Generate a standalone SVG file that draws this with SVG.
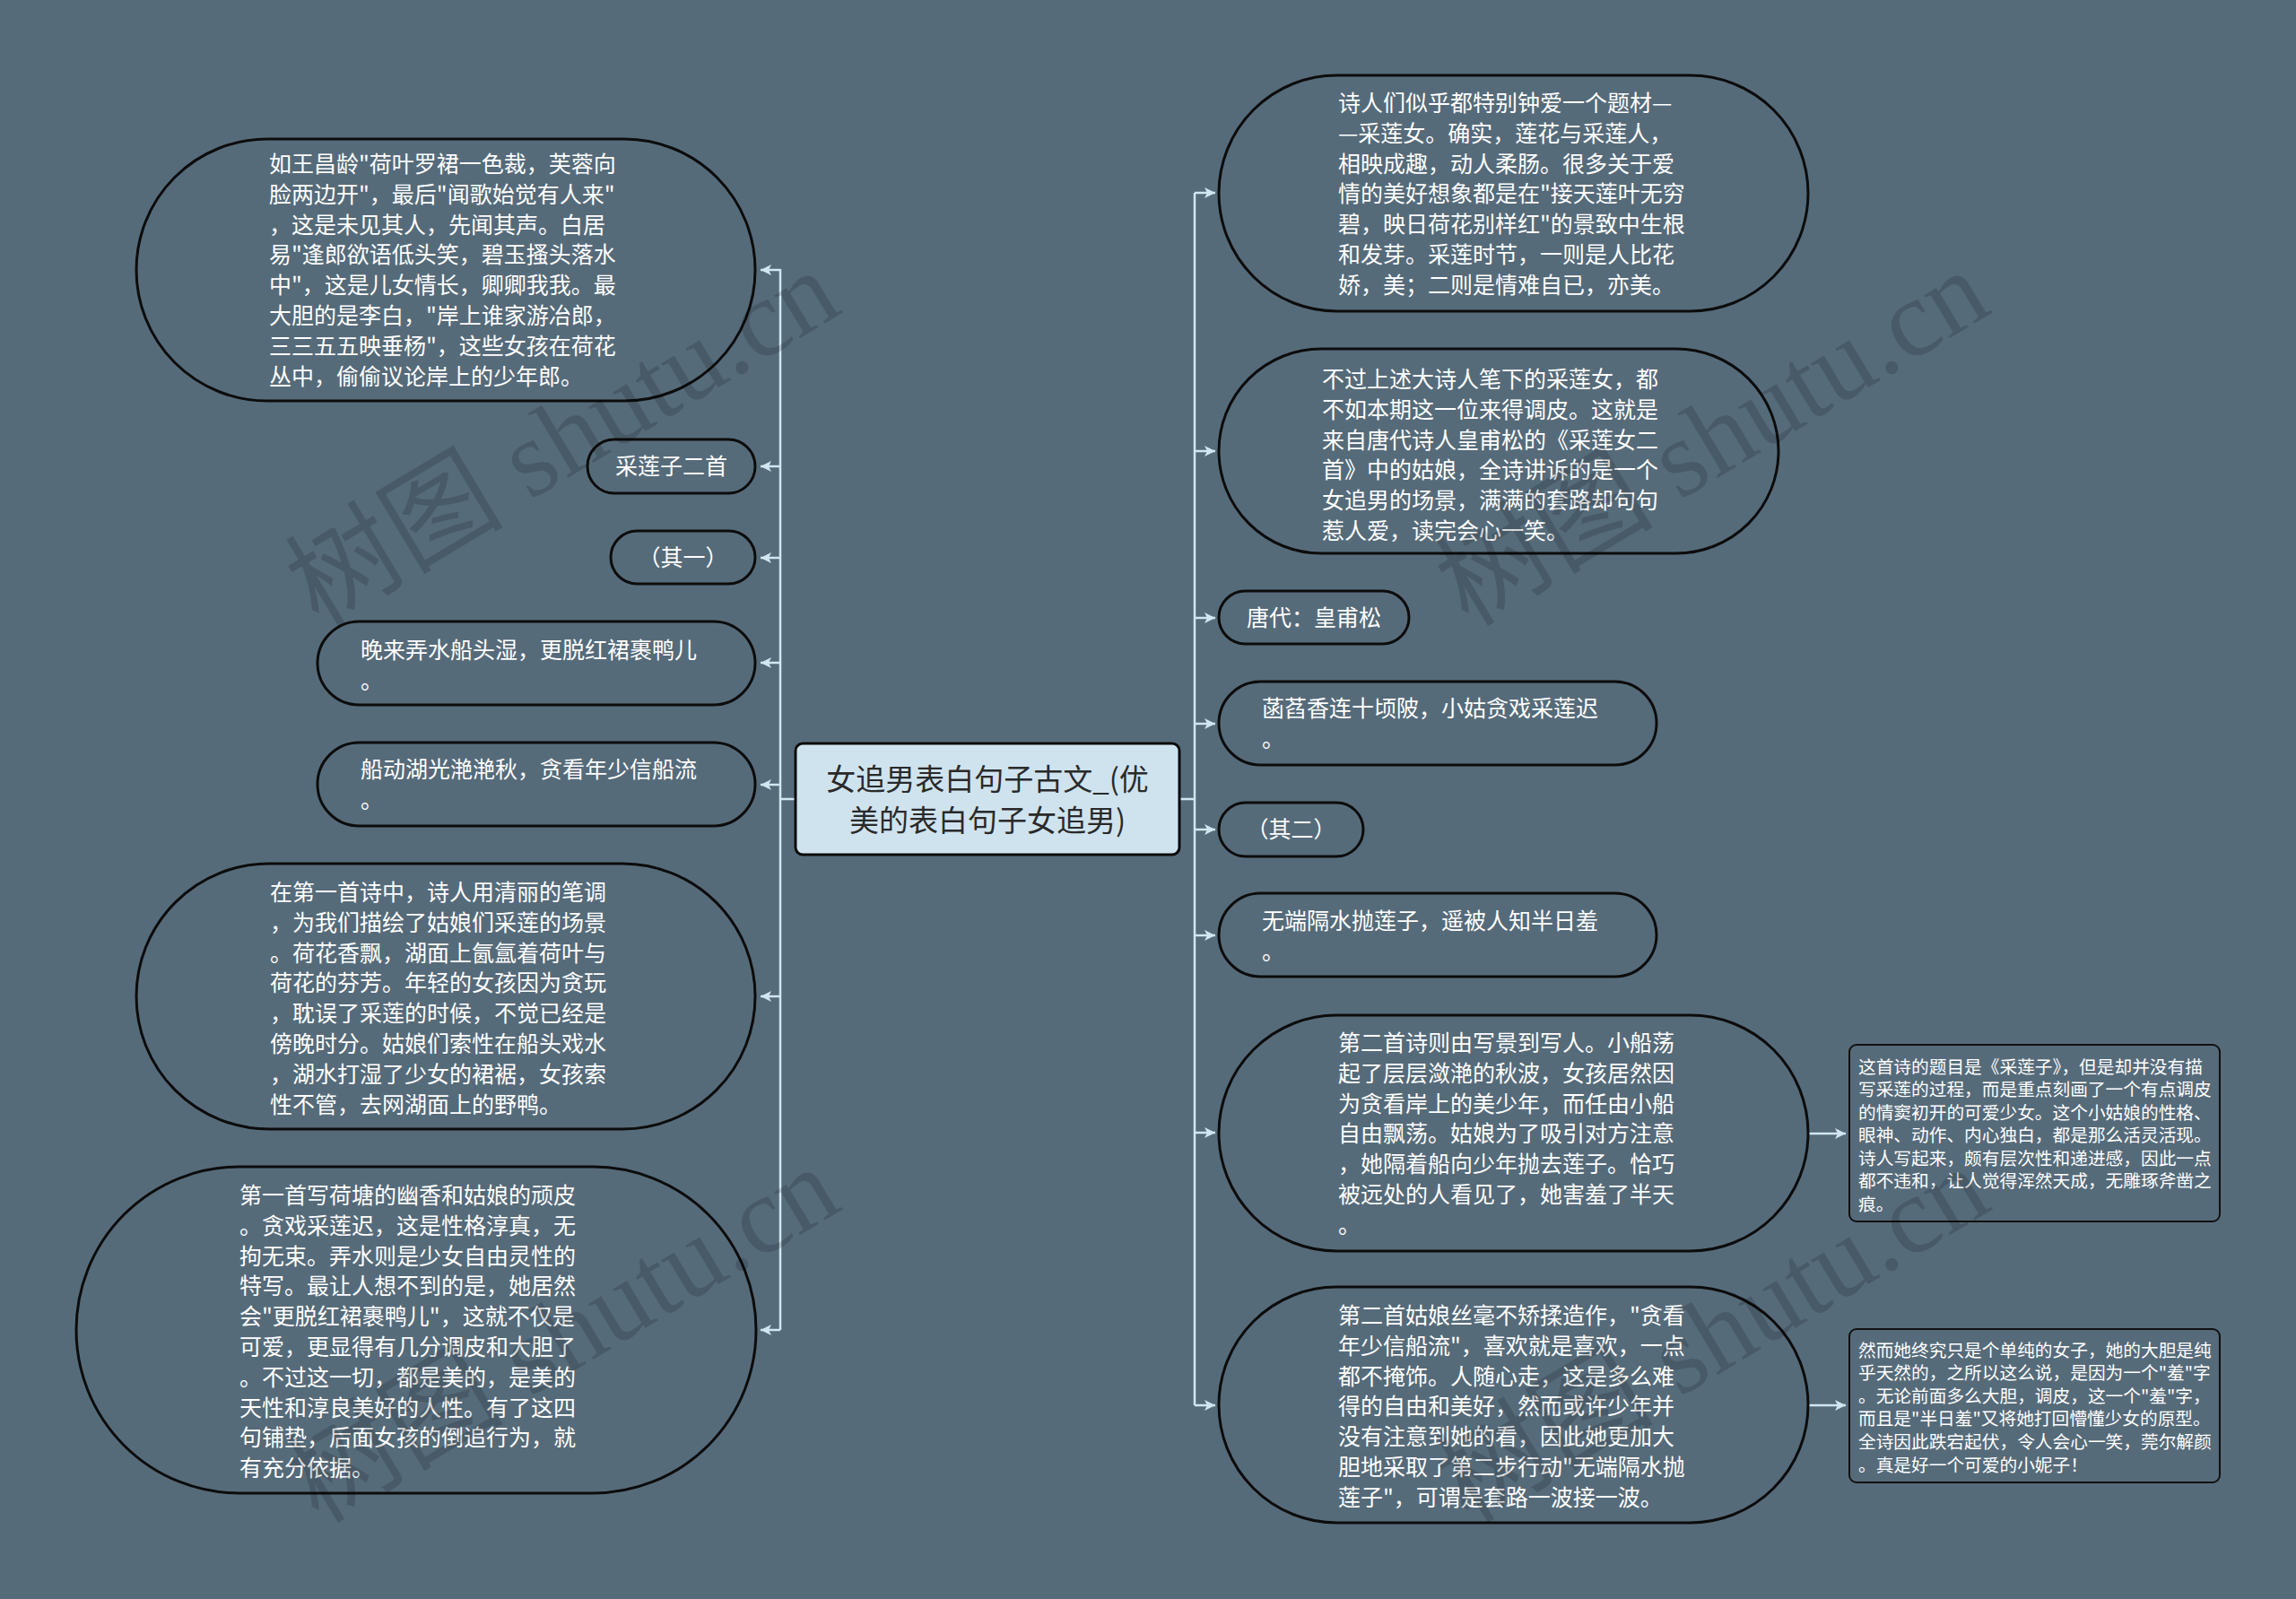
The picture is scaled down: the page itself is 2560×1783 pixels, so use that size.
<svg xmlns="http://www.w3.org/2000/svg" width="2560" height="1783" viewBox="0 0 2560 1783">
<style>
.bg{fill:#566b7a}
.pill{fill:#566b7a;stroke:#0c0c0c;stroke-width:3}
.box{fill:#566b7a;stroke:#111;stroke-width:2}
.t{font-family:"Noto Sans CJK SC","Noto Sans",sans-serif;font-size:25px;fill:#ffffff}
.ts{font-family:"Noto Sans CJK SC","Noto Sans",sans-serif;font-size:19.7px;fill:#ffffff}
.tc{font-family:"Noto Sans CJK SC","Noto Sans",sans-serif;font-size:33px;fill:#2a2a2a;text-anchor:middle}
.m{text-anchor:middle}
.c{fill:none;stroke:#d2e6f1;stroke-width:2.5}
.wm{font-family:"Liberation Serif","Noto Sans CJK SC",serif;font-size:122px;fill:#000;opacity:0.15}
</style>
<defs>
<marker id="ah" markerUnits="userSpaceOnUse" markerWidth="14" markerHeight="12" refX="12" refY="6" orient="auto">
<path d="M0,0 L12,6 L0,12 L3,6 z" fill="#d2e6f1"/>
</marker>
</defs>
<rect class="bg" x="0" y="0" width="2560" height="1783"/>
<g id="connectors">
<path class="c" d="M887,891 H870 M870,300 V1483"/>
<path class="c" d="M870,301 H848" marker-end="url(#ah)"/>
<path class="c" d="M870,520 H848" marker-end="url(#ah)"/>
<path class="c" d="M870,622 H848" marker-end="url(#ah)"/>
<path class="c" d="M870,739 H848" marker-end="url(#ah)"/>
<path class="c" d="M870,875 H848" marker-end="url(#ah)"/>
<path class="c" d="M870,1111 H848" marker-end="url(#ah)"/>
<path class="c" d="M870,1483 H848" marker-end="url(#ah)"/>
<path class="c" d="M1315,891 H1332 M1332,215 V1567"/>
<path class="c" d="M1332,215 H1355" marker-end="url(#ah)"/>
<path class="c" d="M1332,503 H1355" marker-end="url(#ah)"/>
<path class="c" d="M1332,689 H1355" marker-end="url(#ah)"/>
<path class="c" d="M1332,807 H1355" marker-end="url(#ah)"/>
<path class="c" d="M1332,925 H1355" marker-end="url(#ah)"/>
<path class="c" d="M1332,1043 H1355" marker-end="url(#ah)"/>
<path class="c" d="M1332,1263 H1355" marker-end="url(#ah)"/>
<path class="c" d="M1332,1567 H1355" marker-end="url(#ah)"/>
<path class="c" d="M2016,1264 H2058" marker-end="url(#ah)"/>
<path class="c" d="M2016,1567 H2058" marker-end="url(#ah)"/>
</g>
<g id="center">
<rect x="887" y="829" width="428" height="124" rx="8" fill="#cfe3ef" stroke="#0c0c0c" stroke-width="3"/>
<text class="tc" x="1101" y="881">女追男表白句子古文_(优</text>
<text class="tc" x="1101" y="927">美的表白句子女追男)</text>
</g>
<g id="L1">
<rect class="pill" x="152" y="155" width="690" height="292" rx="146"/>
<text class="t" x="300" y="192"><tspan x="300">如王昌龄"荷叶罗裙一色裁，芙蓉向</tspan><tspan x="300" dy="33.8">脸两边开"，最后"闻歌始觉有人来"</tspan><tspan x="300" dy="33.8">，这是未见其人，先闻其声。白居</tspan><tspan x="300" dy="33.8">易"逢郎欲语低头笑，碧玉搔头落水</tspan><tspan x="300" dy="33.8">中"，这是儿女情长，卿卿我我。最</tspan><tspan x="300" dy="33.8">大胆的是李白，"岸上谁家游冶郎，</tspan><tspan x="300" dy="33.8">三三五五映垂杨"，这些女孩在荷花</tspan><tspan x="300" dy="33.8">丛中，偷偷议论岸上的少年郎。</tspan></text>
</g>
<g id="L2">
<rect class="pill" x="655" y="490" width="187" height="60" rx="30"/>
<text class="t m" x="748.5" y="529">采莲子二首</text>
</g>
<g id="L3">
<rect class="pill" x="681" y="592" width="161" height="59" rx="29.5"/>
<text class="t m" x="761.5" y="631">（其一）</text>
</g>
<g id="L4">
<rect class="pill" x="354" y="693" width="488" height="93" rx="46.5"/>
<text class="t" x="402" y="734"><tspan x="402">晚来弄水船头湿，更脱红裙裹鸭儿</tspan><tspan x="402" dy="33.8">。</tspan></text>
</g>
<g id="L5">
<rect class="pill" x="354" y="828" width="488" height="93" rx="46.5"/>
<text class="t" x="402" y="867"><tspan x="402">船动湖光滟滟秋，贪看年少信船流</tspan><tspan x="402" dy="33.8">。</tspan></text>
</g>
<g id="L6">
<rect class="pill" x="152" y="963" width="690" height="296" rx="148"/>
<text class="t" x="301" y="1004"><tspan x="301">在第一首诗中，诗人用清丽的笔调</tspan><tspan x="301" dy="33.8">，为我们描绘了姑娘们采莲的场景</tspan><tspan x="301" dy="33.8">。荷花香飘，湖面上氤氲着荷叶与</tspan><tspan x="301" dy="33.8">荷花的芬芳。年轻的女孩因为贪玩</tspan><tspan x="301" dy="33.8">，耽误了采莲的时候，不觉已经是</tspan><tspan x="301" dy="33.8">傍晚时分。姑娘们索性在船头戏水</tspan><tspan x="301" dy="33.8">，湖水打湿了少女的裙裾，女孩索</tspan><tspan x="301" dy="33.8">性不管，去网湖面上的野鸭。</tspan></text>
</g>
<g id="L7">
<rect class="pill" x="85" y="1301" width="758" height="364" rx="182"/>
<text class="t" x="267" y="1342"><tspan x="267">第一首写荷塘的幽香和姑娘的顽皮</tspan><tspan x="267" dy="33.8">。贪戏采莲迟，这是性格淳真，无</tspan><tspan x="267" dy="33.8">拘无束。弄水则是少女自由灵性的</tspan><tspan x="267" dy="33.8">特写。最让人想不到的是，她居然</tspan><tspan x="267" dy="33.8">会"更脱红裙裹鸭儿"，这就不仅是</tspan><tspan x="267" dy="33.8">可爱，更显得有几分调皮和大胆了</tspan><tspan x="267" dy="33.8">。不过这一切，都是美的，是美的</tspan><tspan x="267" dy="33.8">天性和淳良美好的人性。有了这四</tspan><tspan x="267" dy="33.8">句铺垫，后面女孩的倒追行为，就</tspan><tspan x="267" dy="33.8">有充分依据。</tspan></text>
</g>
<g id="R1">
<rect class="pill" x="1359" y="84" width="657" height="263" rx="131.5"/>
<text class="t" x="1492" y="124"><tspan x="1492">诗人们似乎都特别钟爱一个题材—</tspan><tspan x="1492" dy="33.8">—采莲女。确实，莲花与采莲人，</tspan><tspan x="1492" dy="33.8">相映成趣，动人柔肠。很多关于爱</tspan><tspan x="1492" dy="33.8">情的美好想象都是在"接天莲叶无穷</tspan><tspan x="1492" dy="33.8">碧，映日荷花别样红"的景致中生根</tspan><tspan x="1492" dy="33.8">和发芽。采莲时节，一则是人比花</tspan><tspan x="1492" dy="33.8">娇，美；二则是情难自已，亦美。</tspan></text>
</g>
<g id="R2">
<rect class="pill" x="1359" y="389" width="624" height="228" rx="114"/>
<text class="t" x="1474" y="432"><tspan x="1474">不过上述大诗人笔下的采莲女，都</tspan><tspan x="1474" dy="33.8">不如本期这一位来得调皮。这就是</tspan><tspan x="1474" dy="33.8">来自唐代诗人皇甫松的《采莲女二</tspan><tspan x="1474" dy="33.8">首》中的姑娘，全诗讲诉的是一个</tspan><tspan x="1474" dy="33.8">女追男的场景，满满的套路却句句</tspan><tspan x="1474" dy="33.8">惹人爱，读完会心一笑。</tspan></text>
</g>
<g id="R3">
<rect class="pill" x="1359" y="659" width="212" height="59" rx="29.5"/>
<text class="t m" x="1465" y="698">唐代：皇甫松</text>
</g>
<g id="R4">
<rect class="pill" x="1359" y="760" width="488" height="93" rx="46.5"/>
<text class="t" x="1407" y="799"><tspan x="1407">菡萏香连十顷陂，小姑贪戏采莲迟</tspan><tspan x="1407" dy="33.8">。</tspan></text>
</g>
<g id="R5">
<rect class="pill" x="1359" y="895" width="161" height="60" rx="30"/>
<text class="t m" x="1439.5" y="934">（其二）</text>
</g>
<g id="R6">
<rect class="pill" x="1359" y="996" width="488" height="93" rx="46.5"/>
<text class="t" x="1407" y="1036"><tspan x="1407">无端隔水抛莲子，遥被人知半日羞</tspan><tspan x="1407" dy="33.8">。</tspan></text>
</g>
<g id="R7">
<rect class="pill" x="1359" y="1132" width="657" height="263" rx="131.5"/>
<text class="t" x="1492" y="1172"><tspan x="1492">第二首诗则由写景到写人。小船荡</tspan><tspan x="1492" dy="33.8">起了层层潋滟的秋波，女孩居然因</tspan><tspan x="1492" dy="33.8">为贪看岸上的美少年，而任由小船</tspan><tspan x="1492" dy="33.8">自由飘荡。姑娘为了吸引对方注意</tspan><tspan x="1492" dy="33.8">，她隔着船向少年抛去莲子。恰巧</tspan><tspan x="1492" dy="33.8">被远处的人看见了，她害羞了半天</tspan><tspan x="1492" dy="33.8">。</tspan></text>
</g>
<g id="R8">
<rect class="pill" x="1359" y="1435" width="657" height="263" rx="131.5"/>
<text class="t" x="1492" y="1476"><tspan x="1492">第二首姑娘丝毫不矫揉造作，"贪看</tspan><tspan x="1492" dy="33.8">年少信船流"，喜欢就是喜欢，一点</tspan><tspan x="1492" dy="33.8">都不掩饰。人随心走，这是多么难</tspan><tspan x="1492" dy="33.8">得的自由和美好，然而或许少年并</tspan><tspan x="1492" dy="33.8">没有注意到她的看，因此她更加大</tspan><tspan x="1492" dy="33.8">胆地采取了第二步行动"无端隔水抛</tspan><tspan x="1492" dy="33.8">莲子"，可谓是套路一波接一波。</tspan></text>
</g>
<g id="C1">
<rect class="box" x="2062" y="1165" width="413" height="197" rx="8"/>
<text class="ts" x="2072" y="1196.5"><tspan x="2072">这首诗的题目是《采莲子》，但是却并没有描</tspan><tspan x="2072" dy="25.5">写采莲的过程，而是重点刻画了一个有点调皮</tspan><tspan x="2072" dy="25.5">的情窦初开的可爱少女。这个小姑娘的性格、</tspan><tspan x="2072" dy="25.5">眼神、动作、内心独白，都是那么活灵活现。</tspan><tspan x="2072" dy="25.5">诗人写起来，颇有层次性和递进感，因此一点</tspan><tspan x="2072" dy="25.5">都不违和，让人觉得浑然天成，无雕琢斧凿之</tspan><tspan x="2072" dy="25.5">痕。</tspan></text>
</g>
<g id="C2">
<rect class="box" x="2062" y="1482" width="413" height="171" rx="8"/>
<text class="ts" x="2072" y="1512.5"><tspan x="2072">然而她终究只是个单纯的女子，她的大胆是纯</tspan><tspan x="2072" dy="25.6">乎天然的，之所以这么说，是因为一个"羞"字</tspan><tspan x="2072" dy="25.6">。无论前面多么大胆，调皮，这一个"羞"字，</tspan><tspan x="2072" dy="25.6">而且是"半日羞"又将她打回懵懂少女的原型。</tspan><tspan x="2072" dy="25.6">全诗因此跌宕起伏，令人会心一笑，莞尔解颜</tspan><tspan x="2072" dy="25.6">。真是好一个可爱的小妮子！</tspan></text>
</g>
<g id="watermark">
<text class="wm" transform="translate(355,700) rotate(-31)">树图 shutu.cn</text>
<text class="wm" transform="translate(1637,700) rotate(-31)">树图 shutu.cn</text>
<text class="wm" transform="translate(355,1700) rotate(-31)">树图 shutu.cn</text>
<text class="wm" transform="translate(1637,1700) rotate(-31)">树图 shutu.cn</text>
</g>
</svg>
